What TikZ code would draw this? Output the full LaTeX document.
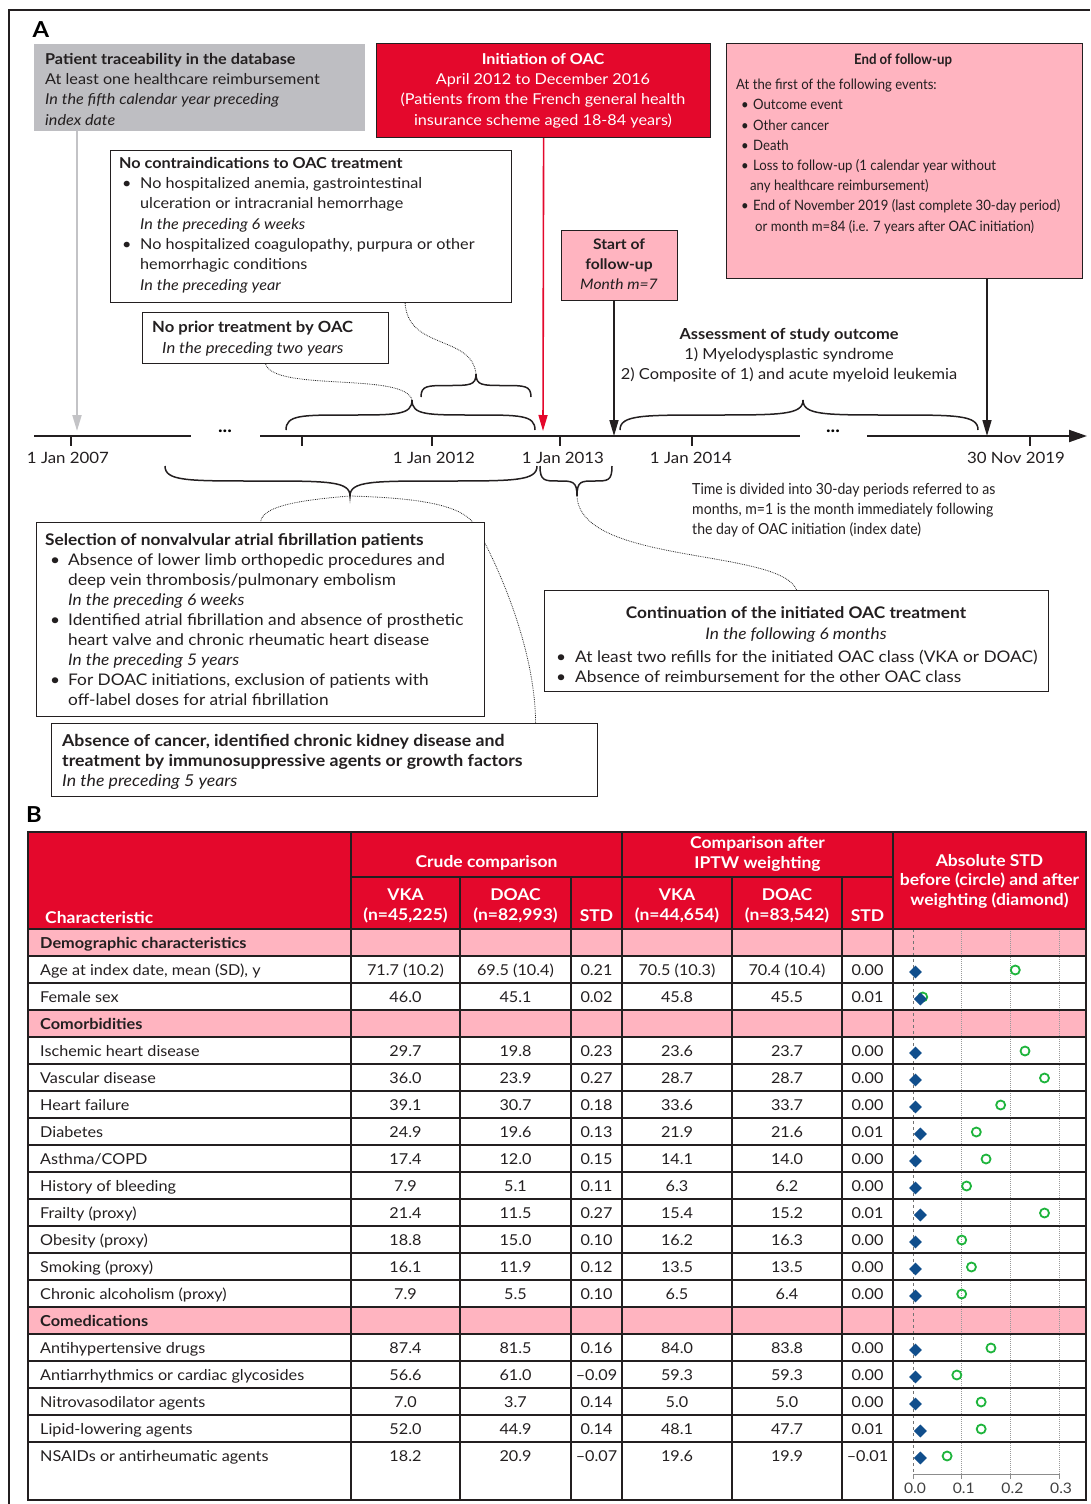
\documentclass[tikz,border=0pt]{standalone}
\usepackage{fontspec}
\setmainfont[FakeStretch=1.08]{Lato}
\newfontfamily\cond[FakeStretch=0.92]{Lato}
\usetikzlibrary{shapes.geometric,arrows.meta}
\pgfdeclarelayer{bg}
\pgfsetlayers{bg,main}
\definecolor{oacred}{RGB}{228,8,44}
\definecolor{pinkbox}{RGB}{255,180,192}
\definecolor{graybox}{RGB}{190,190,194}
\definecolor{diablue}{RGB}{16,78,140}
\definecolor{circgreen}{RGB}{30,180,60}
\definecolor{linedark}{RGB}{35,31,32}
\definecolor{arrgray}{RGB}{195,195,198}
% x1, x2, xtip, ybase, ytip
\newcommand\BraceAt[5]{%
 \draw[bracestyle] (#1,#4) .. controls (#1,{(#4+#5)/2}) and ({#1+0.12*(#3-#1)},{(#4+#5)/2}) .. ({(#1+#3)/2},{(#4+#5)/2})
  .. controls ({#3-0.12*(#3-#1)},{(#4+#5)/2}) and (#3,{(#4+#5)/2}) .. (#3,#5)
  .. controls (#3,{(#4+#5)/2}) and ({#3+0.12*(#2-#3)},{(#4+#5)/2}) .. ({(#2+#3)/2},{(#4+#5)/2})
  .. controls ({#2-0.12*(#2-#3)},{(#4+#5)/2}) and (#2,{(#4+#5)/2}) .. (#2,#4);}
\begin{document}
\begin{tikzpicture}[x=1pt,y=-1pt,
  box/.style={draw=linedark, line width=1.2pt, inner sep=0pt, anchor=north west, fill=white},
  txt/.style={anchor=north west, inner sep=0pt, align=left, text=linedark},
  ctxt/.style={anchor=north, inner sep=0pt, align=center, text=linedark},
  fA/.style={font=\fontsize{15}{20.3}\selectfont},
  bracestyle/.style={line width=1.5pt, linedark},
  dotc/.style={densely dotted, line width=0.8pt, black!85},
  tline/.style={line width=1.3pt, linedark},
  cell/.style={inner sep=0pt, text=linedark, font=\fontsize{15}{18}\selectfont, text height=11pt, text depth=3pt},
  hcell/.style={inner sep=0pt, text=white, align=center, font=\bfseries\fontsize{16.2}{19.5}\selectfont},
  tlab/.style={inner sep=0pt, text=linedark, font=\fontsize{15.6}{18}\selectfont, text height=11pt, text depth=3pt}
]
\useasboundingbox (0,0) rectangle (1090,1504);
\draw[line width=1.5pt, linedark] (9,1504) -- (9,10) -- (1090,10);
\node[anchor=center, inner sep=0pt, font=\bfseries\fontsize{22}{24}\selectfont] (labA) at (41,30) {A};
\node[anchor=center, inner sep=0pt, font=\bfseries\fontsize{22}{24}\selectfont] (labB) at (34,815) {B};

% ---------- boxes ----------
\node[box, draw=none, fill=graybox, minimum width=331pt, minimum height=87pt] (gray) at (33,43) {};
\node[box, fill=oacred, minimum width=334pt, minimum height=94pt] (init) at (376,43) {};
\node[box, fill=pinkbox, minimum width=356pt, minimum height=235pt] (endf) at (726,43) {};
\node[box, minimum width=401pt, minimum height=152pt] (contra) at (110,150) {};
\node[box, fill=pinkbox, minimum width=116pt, minimum height=70pt] (start) at (561,230) {};
\node[box, minimum width=246pt, minimum height=51pt] (noprior) at (142,312) {};
\node[box, minimum width=448pt, minimum height=194pt] (select) at (36,522) {};
\node[box, minimum width=546pt, minimum height=73pt] (absence) at (51,723) {};
\node[box, minimum width=504pt, minimum height=101pt] (cont) at (544,590) {};

% ---------- box texts ----------
\node[txt, fA] (tgray) at (45,53) {\textbf{Patient traceability in the database}\\
At least one healthcare reimbursement\\
\textit{In the fifth calendar year preceding}\\
\textit{index date}};
\node[ctxt, fA, text=white] (tinit) at (543,53) {\textbf{Initiation of OAC}\\
April 2012 to December 2016\\
(Patients from the French general health\\
insurance scheme aged 18-84 years)};
\node[ctxt, font=\cond\bfseries\fontsize{14.4}{20}\selectfont] (tendt) at (903,54) {End of follow-up};
\node[txt, font=\cond\fontsize{14.3}{20.2}\selectfont] (tend) at (736,79) {At the first of the following events:\\
\hspace*{5pt}\makebox[12pt][l]{\textbullet}Outcome event\\
\hspace*{5pt}\makebox[12pt][l]{\textbullet}Other cancer\\
\hspace*{5pt}\makebox[12pt][l]{\textbullet}Death\\
\hspace*{5pt}\makebox[12pt][l]{\textbullet}Loss to follow-up (1 calendar year without\\
\hspace*{14pt}any healthcare reimbursement)\\
\hspace*{5pt}\makebox[12pt][l]{\textbullet}End of November 2019 (last complete 30-day period)\\
\hspace*{19pt}or month m=84 (i.e. 7 years after OAC initiation)};
\node[txt, fA] (tcontra) at (119,157) {\textbf{No contraindications to OAC treatment}\\
\hspace*{3pt}\makebox[18pt][l]{\textbullet}No hospitalized anemia, gastrointestinal\\
\hspace*{21pt}ulceration or intracranial hemorrhage\\
\hspace*{21pt}\textit{In the preceding 6 weeks}\\
\hspace*{3pt}\makebox[18pt][l]{\textbullet}No hospitalized coagulopathy, purpura or other\\
\hspace*{21pt}hemorrhagic conditions\\
\hspace*{21pt}\textit{In the preceding year}};
\node[ctxt, font=\fontsize{14.5}{20}\selectfont] (tstart) at (619,239) {\textbf{Start of}\\ \textbf{follow-up}\\ \textit{Month m=7}};
\node[txt, font=\fontsize{15.4}{21}\selectfont] (tnoprior) at (152,321) {\textbf{No prior treatment by OAC}\\
\hspace*{10pt}\textit{In the preceding two years}};
\node[ctxt, font=\fontsize{15.2}{20}\selectfont] (tassess) at (789,328) {\textbf{Assessment of study outcome}\\
1) Myelodysplastic syndrome\\
2) Composite of 1) and acute myeloid leukemia};
\node[txt, font=\cond\fontsize{15.3}{20}\selectfont] (tnote) at (692,483) {Time is divided into 30-day periods referred to as\\
months, m=1 is the month immediately following\\
the day of OAC initiation (index date)};
\node[txt, font=\fontsize{16}{20.1}\selectfont] (tselect) at (45,533) {\textbf{Selection of nonvalvular atrial fibrillation patients}\\
\hspace*{5pt}\makebox[18pt][l]{\textbullet}Absence of lower limb orthopedic procedures and\\
\hspace*{23pt}deep vein thrombosis/pulmonary embolism\\
\hspace*{23pt}\textit{In the preceding 6 weeks}\\
\hspace*{5pt}\makebox[18pt][l]{\textbullet}Identified atrial fibrillation and absence of prosthetic\\
\hspace*{23pt}heart valve and chronic rheumatic heart disease\\
\hspace*{23pt}\textit{In the preceding 5 years}\\
\hspace*{5pt}\makebox[18pt][l]{\textbullet}For DOAC initiations, exclusion of patients with\\
\hspace*{23pt}off-label doses for atrial fibrillation};
\node[txt, font=\fontsize{16.4}{20}\selectfont] (tabsence) at (62,734) {\textbf{Absence of cancer, identified chronic kidney disease and}\\
\textbf{treatment by immunosuppressive agents or growth factors}\\
\textit{In the preceding 5 years}};
\node[ctxt, font=\fontsize{16}{21}\selectfont] (tconth) at (796,606) {\textbf{Continuation of the initiated OAC treatment}\\
\textit{In the following 6 months}};
\node[txt, font=\fontsize{16}{20}\selectfont] (tcontb) at (556,650) {\makebox[19pt][l]{\textbullet}At least two refills for the initiated OAC class (VKA or DOAC)\\
\makebox[19pt][l]{\textbullet}Absence of reimbursement for the other OAC class};

% ---------- timeline ----------
\draw[line width=2pt, linedark] (34,436) -- (191,436);
\draw[line width=2pt, linedark] (260,436) -- (800,436);
\draw[line width=2pt, linedark, -{Triangle[length=18pt,width=12pt]}] (867,436) -- (1087,436);
\foreach \x in {71,302,432,560,692,1030} \draw[line width=1.5pt, linedark] (\x,436) -- (\x,446);
\node[inner sep=0pt, font=\bfseries\fontsize{18}{18}\selectfont] (dots1) at (225,431) {...};
\node[inner sep=0pt, font=\bfseries\fontsize{18}{18}\selectfont] (dots2) at (833,431) {...};
\node[tlab] (y2007) at (68,459) {1 Jan 2007};
\node[tlab] (y2012) at (434,459) {1 Jan 2012};
\node[tlab] (y2013) at (563,459) {1 Jan 2013};
\node[tlab] (y2014) at (691,459) {1 Jan 2014};
\node[tlab] (y2019) at (1016,459) {30 Nov 2019};

\coordinate (tipG) at (77,431);
\coordinate (tipR) at (543,431);
\coordinate (tipS) at (614,436);
\coordinate (tipE) at (987,436);
\draw[line width=2pt, arrgray, -{Triangle[length=16pt,width=9pt]}] (gray.south -| tipG) -- (tipG);
\draw[line width=1.6pt, oacred, -{Triangle[length=16pt,width=9pt]}] (init.south) -- (tipR);
\draw[line width=1.6pt, linedark, -{Triangle[length=16pt,width=9pt]}] (start.south -| tipS) -- (tipS);
\draw[line width=1.6pt, linedark, -{Triangle[length=16pt,width=9pt]}] (endf.south -| tipE) -- (tipE);

% braces
\BraceAt{286}{535}{412}{430}{400}
\BraceAt{421}{531}{476}{397}{374}
\BraceAt{620}{978}{803}{430}{400}
\BraceAt{165}{537}{350}{466}{496}
\BraceAt{540}{612}{577}{466}{496}
\coordinate (b1tip) at (412,400);
\coordinate (b2tip) at (476,374);
\coordinate (b4tip) at (350,496);
\coordinate (b5tip) at (577,496);

\begin{pgfonlayer}{bg}
\draw[dotc] ([xshift=94pt]contra.south) .. controls (408,350) and (472,335) .. (b2tip);
\draw[dotc] (noprior.south) .. controls (275,392) and (405,372) .. (b1tip);
\draw[dotc] (b4tip) .. controls (300,500) and (262,506) .. (select.north);
\draw[dotc] (b4tip) .. controls (420,498) and (462,505) .. (475,525) .. controls (490,550) and (535,640) .. ([xshift=211pt]absence.north);
\draw[dotc] (b5tip) .. controls (580,565) and (780,548) .. (cont.north);
\end{pgfonlayer}

% ---------- table ----------
\fill[oacred] (28,832) rectangle (1086,929);
\foreach \k in {0,3,14} \fill[pinkbox] (28,{929+27*\k}) rectangle (1086,{956+27*\k});
\draw[black!55, dashed, line width=0.9pt] (913,929) -- (913,1474);
\foreach \v in {0.1,0.2,0.3} \draw[black!40, densely dotted, line width=1pt] ({913+487*\v},929) -- ({913+487*\v},1474);
\draw[tline] (28,832) rectangle (1086,1500);
\foreach \x in {351,622,893} \draw[tline] (\x,832) -- (\x,1500);
\foreach \x in {460,571,732,842} \draw[tline] (\x,877) -- (\x,1500);
\draw[tline] (351,877) -- (893,877);
\foreach \k in {0,...,19} \draw[tline] (28,{929+27*\k}) -- (1086,{929+27*\k});
\draw[black!45, line width=1pt] (913,1474) -- (1059,1474);
\foreach \v/\t [count=\i] in {0/0.0,0.1/0.1,0.2/0.2,0.3/0.3} {
  \draw[black!45, line width=1pt] ({913+487*\v},1474) -- ({913+487*\v},1479);
  \node[inner sep=0pt, text=black!75, font=\fontsize{14.5}{18}\selectfont] (ax\i) at ({915+487*\v},1488) {\t};
}
% header
\node[hcell, anchor=west] (hchar) at (45,918) {Characteristic};
\node[hcell] (hcrude) at (486.5,863) {Crude comparison};
\node[hcell] (hiptw) at (757.5,854) {Comparison after\\IPTW weighting};
\node[hcell] (hvka1) at (405.5,906) {VKA\\(n=45,225)};
\node[hcell] (hdoac1) at (515.5,906) {DOAC\\(n=82,993)};
\node[hcell] (hstd1) at (596.5,916) {STD};
\node[hcell] (hvka2) at (677,906) {VKA\\(n=44,654)};
\node[hcell] (hdoac2) at (787,906) {DOAC\\(n=83,542)};
\node[hcell] (hstd2) at (867.5,916) {STD};
\node[hcell] (habs) at (989.5,881) {Absolute STD\\before (circle) and after\\weighting (diamond)};
% sections
\foreach \k/\lab in {0/Demographic characteristics,3/Comorbidities,14/Comedications}
  \node[cell, anchor=west, font=\bfseries\fontsize{15.1}{18}\selectfont] (sec\k) at (40,{929+27*\k+15.5}) {\lab};
% data rows
\foreach \k/\lab/\va/\vb/\vc/\vd/\ve/\vf/\ci/\di in {
 1/{Age at index date, mean (SD), y}/71.7 (10.2)/69.5 (10.4)/0.21/70.5 (10.3)/70.4 (10.4)/0.00/0.21/0.00,
 2/Female sex/46.0/45.1/0.02/45.8/45.5/0.01/0.02/0.01,
 4/Ischemic heart disease/29.7/19.8/0.23/23.6/23.7/0.00/0.23/0.00,
 5/Vascular disease/36.0/23.9/0.27/28.7/28.7/0.00/0.27/0.00,
 6/Heart failure/39.1/30.7/0.18/33.6/33.7/0.00/0.18/0.00,
 7/Diabetes/24.9/19.6/0.13/21.9/21.6/0.01/0.13/0.01,
 8/Asthma\slash COPD/17.4/12.0/0.15/14.1/14.0/0.00/0.15/0.00,
 9/History of bleeding/7.9/5.1/0.11/6.3/6.2/0.00/0.11/0.00,
 10/Frailty (proxy)/21.4/11.5/0.27/15.4/15.2/0.01/0.27/0.01,
 11/Obesity (proxy)/18.8/15.0/0.10/16.2/16.3/0.00/0.10/0.00,
 12/Smoking (proxy)/16.1/11.9/0.12/13.5/13.5/0.00/0.12/0.00,
 13/Chronic alcoholism (proxy)/7.9/5.5/0.10/6.5/6.4/0.00/0.10/0.00,
 15/Antihypertensive drugs/87.4/81.5/0.16/84.0/83.8/0.00/0.16/0.00,
 16/Antiarrhythmics or cardiac glycosides/56.6/61.0/–0.09/59.3/59.3/0.00/0.09/0.00,
 17/Nitrovasodilator agents/7.0/3.7/0.14/5.0/5.0/0.00/0.14/0.00,
 18/Lipid-lowering agents/52.0/44.9/0.14/48.1/47.7/0.01/0.14/0.01,
 19/NSAIDs or antirheumatic agents/18.2/20.9/–0.07/19.6/19.9/–0.01/0.07/0.01} {
  \node[cell, anchor=west] (lab\k) at (40,{929+27*\k+15.5}) {\lab};
  \node[cell] (va\k) at (405.5,{929+27*\k+15.5}) {\va};
  \node[cell] (vb\k) at (515.5,{929+27*\k+15.5}) {\vb};
  \node[cell] (vc\k) at (596.5,{929+27*\k+15.5}) {\vc};
  \node[cell] (vd\k) at (677,{929+27*\k+15.5}) {\vd};
  \node[cell] (ve\k) at (787,{929+27*\k+15.5}) {\ve};
  \node[cell] (vf\k) at (867.5,{929+27*\k+15.5}) {\vf};
  \node[circle, draw=circgreen, line width=1.8pt, minimum size=9pt, inner sep=0pt] (ci\k) at ({913+487*\ci},{929+27*\k+14}) {};
  \node[diamond, fill=diablue, minimum size=13pt, inner sep=0pt] (di\k) at ({915.5+487*\di},{929+27*\k+16}) {};
}
\end{tikzpicture}
\end{document}
